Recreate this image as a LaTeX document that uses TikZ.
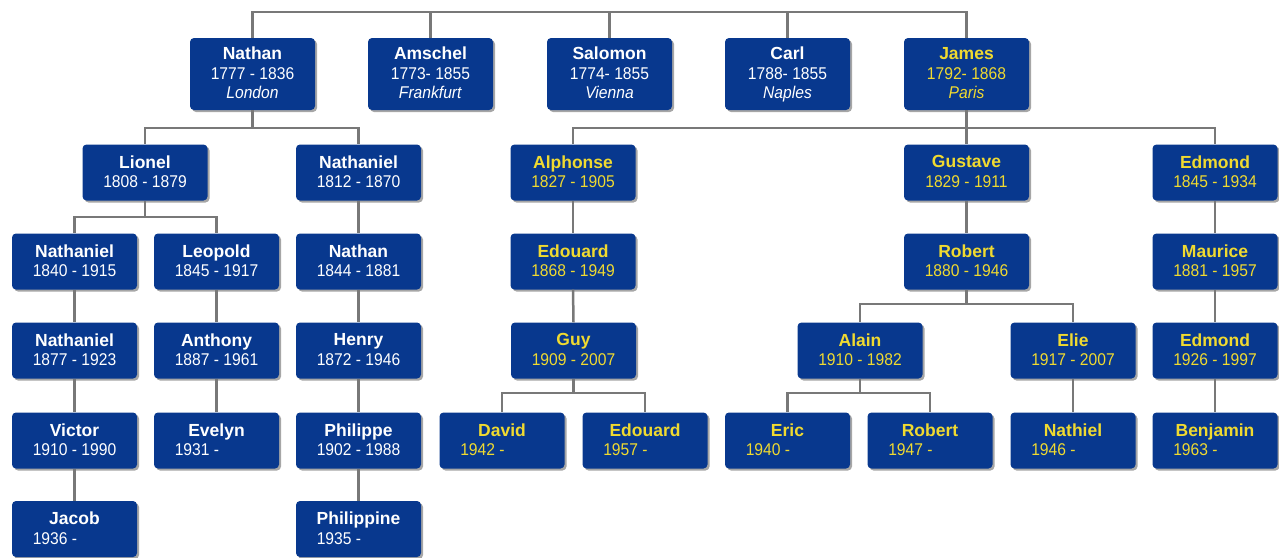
\documentclass[tikz,border=0pt]{standalone}
\usepackage{fontspec}
\setmainfont{Liberation Sans}
\newfontfamily\boxfont[FakeStretch=0.92]{Liberation Sans}
\newfontfamily\namefont{Liberation Sans}
\usetikzlibrary{shadows}
\definecolor{boxblue}{RGB}{8,56,142}
\definecolor{boxyellow}{RGB}{240,218,48}
\definecolor{linegray}{RGB}{120,120,120}
\tikzset{
 person/.style={draw=none, fill=boxblue, rounded corners=4pt, minimum width=125pt,
   minimum height=56pt, inner sep=0pt, align=center,
   font=\boxfont\fontsize{17}{19.5}\selectfont, text=white,
   execute at begin node=\rule{0pt}{21pt}, execute at end node=\rule[-2pt]{0pt}{2pt},
   drop shadow={shadow xshift=2pt, shadow yshift=-2pt, fill=black, opacity=0.35}},
 elder/.style={person, minimum height=72pt},
 yel/.style={text=boxyellow},
 link/.style={draw=linegray, line width=2.5pt},
}
\newcommand\nm[1]{{\namefont\bfseries\fontsize{17.5}{19.5}\selectfont #1}}
\newcommand\opendate[1]{#1 -\phantom{ 0000}}
\newcommand\fork[3]{\draw[link] (#1.south) -- (#1.south |- #2) -| (#3.north);}
\newcommand\lnk[2]{\draw[link] (#1.south) -- (#2.north);}
\begin{document}
\begin{tikzpicture}[x=1pt,y=-1pt]
\useasboundingbox (0,0) rectangle (1279,557);
\coordinate (top) at (0,12);
\coordinate (b1) at (0,128);
\coordinate (b2) at (0,217);
\coordinate (b3) at (0,304);
\coordinate (b4) at (0,393);
% row 1
\node[elder] (nathan) at (252.5,74) {\nm{Nathan}\\1777 - 1836\\\textit{London}};
\node[elder] (amschel) at (430.5,74) {\nm{Amschel}\\1773- 1855\\\textit{Frankfurt}};
\node[elder] (salomon) at (609.5,74) {\nm{Salomon}\\1774- 1855\\\textit{Vienna}};
\node[elder] (carl) at (787.5,74) {\nm{Carl}\\1788- 1855\\\smash{\textit{Naples}}};
\node[elder,yel] (james) at (966.5,74) {\nm{James}\\1792- 1868\\\textit{Paris}};
% row 2
\node[person] (lionel) at (145,172.5) {\nm{Lionel}\\1808 - 1879};
\node[person] (nathB) at (358.5,172.5) {\nm{Nathaniel}\\1812 - 1870};
\node[person,yel] (alphonse) at (573,172.5) {\nm{Alphonse}\\1827 - 1905};
\node[person,yel] (gustave) at (966.5,172.5) {\nm{Gustave}\\1829 - 1911};
\node[person,yel] (edmondA) at (1215,172.5) {\nm{Edmond}\\1845 - 1934};
% row 3
\node[person] (nathC) at (74.5,261.5) {\nm{Nathaniel}\\1840 - 1915};
\node[person] (leopold) at (216.5,261.5) {\nm{Leopold}\\1845 - 1917};
\node[person] (nathanC) at (358.5,261.5) {\nm{Nathan}\\1844 - 1881};
\node[person,yel] (edouardA) at (573,261.5) {\nm{Edouard}\\1868 - 1949};
\node[person,yel] (robertA) at (966.5,261.5) {\nm{Robert}\\1880 - 1946};
\node[person,yel] (maurice) at (1215,261.5) {\nm{Maurice}\\1881 - 1957};
% row 4
\node[person] (nathD) at (74.5,350.5) {\nm{Nathaniel}\\1877 - 1923};
\node[person] (anthony) at (216.5,350.5) {\nm{Anthony}\\1887 - 1961};
\node[person] (henry) at (358.5,350.5) {\nm{Henry}\\1872 - 1946};
\node[person,yel] (guy) at (573.5,350.5) {\nm{Guy}\\1909 - 2007};
\node[person,yel] (alain) at (860,350.5) {\nm{Alain}\\1910 - 1982};
\node[person,yel] (elie) at (1073,350.5) {\nm{Elie}\\1917 - 2007};
\node[person,yel] (edmondB) at (1215,350.5) {\nm{Edmond}\\1926 - 1997};
% row 5
\node[person] (victor) at (74.5,440.5) {\nm{Victor}\\1910 - 1990};
\node[person] (evelyn) at (216.5,440.5) {\nm{Evelyn}\\\opendate{1931}};
\node[person] (philippe) at (358.5,440.5) {\nm{Philippe}\\1902 - 1988};
\node[person,yel] (david) at (502,440.5) {\nm{David}\\\opendate{1942}};
\node[person,yel] (edouardB) at (645,440.5) {\nm{Edouard}\\\opendate{1957}};
\node[person,yel] (eric) at (787.5,440.5) {\nm{Eric}\\\opendate{1940}};
\node[person,yel] (robertB) at (930,440.5) {\nm{Robert}\\\opendate{1947}};
\node[person,yel] (nathiel) at (1073,440.5) {\nm{Nathiel}\\\opendate{1946}};
\node[person,yel] (benjamin) at (1215,440.5) {\nm{Benjamin}\\\opendate{1963}};
% row 6
\node[person] (jacob) at (74.5,529) {\nm{Jacob}\\\opendate{1936}};
\node[person] (philippine) at (358.5,529) {\nm{Philippine}\\\opendate{1935}};
% top links
\draw[link] (nathan.north) -- (nathan.north |- top) -| (james.north);
\draw[link] (amschel.north) -- (amschel.north |- top);
\draw[link] (salomon.north) -- (salomon.north |- top);
\draw[link] (carl.north) -- (carl.north |- top);
% forks
\fork{nathan}{b1}{lionel}
\fork{nathan}{b1}{nathB}
\fork{james}{b1}{alphonse}
\fork{james}{b1}{gustave}
\fork{james}{b1}{edmondA}
\fork{lionel}{b2}{nathC}
\fork{lionel}{b2}{leopold}
\fork{robertA}{b3}{alain}
\fork{robertA}{b3}{elie}
\fork{guy}{b4}{david}
\fork{guy}{b4}{edouardB}
\fork{alain}{b4}{eric}
\fork{alain}{b4}{robertB}
% straight links
\lnk{nathB}{nathanC}
\lnk{nathanC}{henry}
\lnk{henry}{philippe}
\lnk{philippe}{philippine}
\lnk{nathC}{nathD}
\lnk{nathD}{victor}
\lnk{victor}{jacob}
\lnk{leopold}{anthony}
\lnk{anthony}{evelyn}
\lnk{alphonse}{edouardA}
\lnk{edouardA}{guy}
\lnk{gustave}{robertA}
\lnk{elie}{nathiel}
\lnk{edmondA}{maurice}
\lnk{maurice}{edmondB}
\lnk{edmondB}{benjamin}
\end{tikzpicture}
\end{document}
